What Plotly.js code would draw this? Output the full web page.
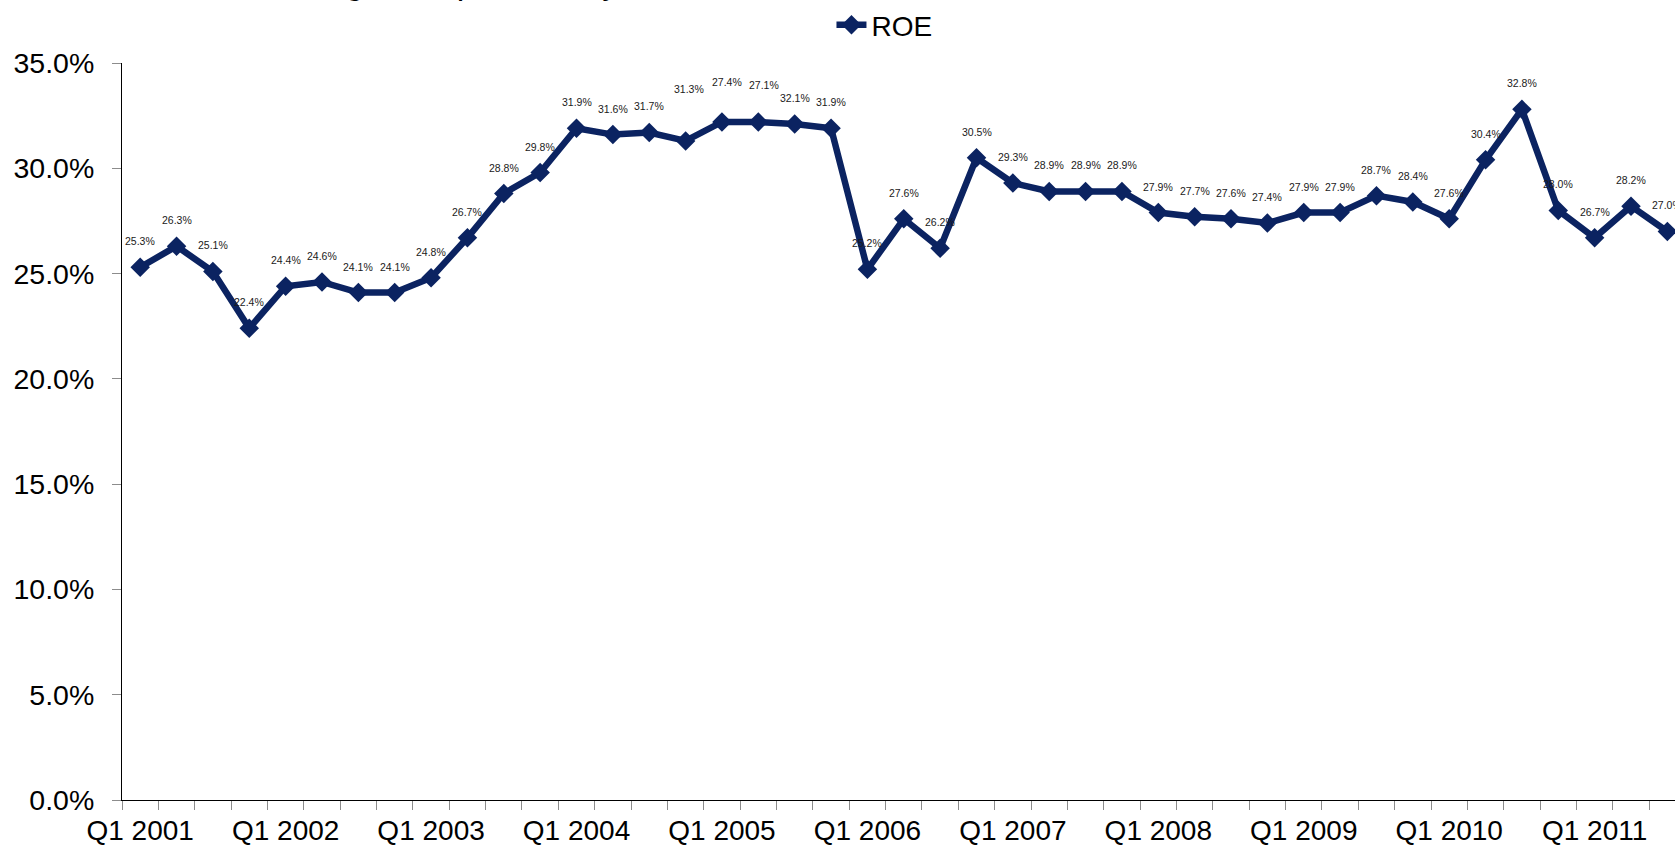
<!DOCTYPE html>
<html>
<head>
<meta charset="utf-8">
<script src="https://cdn.plot.ly/plotly-3.0.1.min.js"></script>
<style>
  html, body { margin: 0; padding: 0; background: #fff; overflow: hidden; }
  #chart { width: 1675px; height: 846px; }
</style>
</head>
<body>
<div id="chart"></div>
<script>
// ---- Data ----
const quarters = [
  "Q1 2001","Q2 2001","Q3 2001","Q4 2001",
  "Q1 2002","Q2 2002","Q3 2002","Q4 2002",
  "Q1 2003","Q2 2003","Q3 2003","Q4 2003",
  "Q1 2004","Q2 2004","Q3 2004","Q4 2004",
  "Q1 2005","Q2 2005","Q3 2005","Q4 2005",
  "Q1 2006","Q2 2006","Q3 2006","Q4 2006",
  "Q1 2007","Q2 2007","Q3 2007","Q4 2007",
  "Q1 2008","Q2 2008","Q3 2008","Q4 2008",
  "Q1 2009","Q2 2009","Q3 2009","Q4 2009",
  "Q1 2010","Q2 2010","Q3 2010","Q4 2010",
  "Q1 2011","Q2 2011","Q3 2011"
];

const roe = [
  25.3, 26.3, 25.1, 22.4,
  24.4, 24.6, 24.1, 24.1,
  24.8, 26.7, 28.8, 29.8,
  31.9, 31.6, 31.7, 31.3,
  32.2, 32.2, 32.1, 31.9,
  25.2, 27.6, 26.2, 30.5,
  29.3, 28.9, 28.9, 28.9,
  27.9, 27.7, 27.6, 27.4,
  27.9, 27.9, 28.7, 28.4,
  27.6, 30.4, 32.8, 28.0,
  26.7, 28.2, 27.0
];

// data labels as printed on the chart
const roeLabels = [
  "25.3%","26.3%","25.1%","22.4%",
  "24.4%","24.6%","24.1%","24.1%",
  "24.8%","26.7%","28.8%","29.8%",
  "31.9%","31.6%","31.7%","31.3%",
  "27.4%","27.1%","32.1%","31.9%",
  "25.2%","27.6%","26.2%","30.5%",
  "29.3%","28.9%","28.9%","28.9%",
  "27.9%","27.7%","27.6%","27.4%",
  "27.9%","27.9%","28.7%","28.4%",
  "27.6%","30.4%","32.8%","28.0%",
  "26.7%","28.2%","27.0%"
];

const seriesName = "ROE";
const titleText = "Strong ROE profitability";

// ---- Styling ----
const NAVY = "#0b2361";
const FONT = "Arial, 'Liberation Sans', sans-serif";
const labelShift = 26;
const labelShiftOverrides = { 15: {dy: 52, dx: 3}, 16: {dy: 40, dx: 5}, 17: {dy: 37, dx: 6} };

const tickText = quarters.map(q => q.startsWith("Q1") ? q : "");

const trace = {
  type: "scatter",
  mode: "lines+markers",
  name: seriesName,
  x: quarters,
  y: roe,
  line: { color: NAVY, width: 6.5 },
  marker: { symbol: "diamond", size: 15, color: NAVY },
  cliponaxis: false,
  hoverinfo: "x+y"
};

const annotations = roe.map((v, i) => {
  const o = labelShiftOverrides[i] || { dy: labelShift, dx: 0 };
  return {
    x: quarters[i], y: v, xref: "x", yref: "y",
    text: roeLabels[i], showarrow: false,
    xanchor: "center", yanchor: "middle",
    yshift: o.dy, xshift: o.dx,
    font: { family: FONT, size: 10.5, color: "#1a1a1a" }
  };
});

annotations.push({
  xref: "paper", yref: "paper", x: 0.090, y: 1,
  xanchor: "left", yanchor: "bottom", yshift: 60,
  text: titleText, showarrow: false,
  font: { family: FONT, size: 34, color: "#000" }
});

const layout = {
  width: 1675, height: 846,
  margin: { l: 122, r: 0, t: 63, b: 46, pad: 0 },
  paper_bgcolor: "#fff", plot_bgcolor: "#fff",
  font: { family: FONT, color: "#000", size: 28 },
  showlegend: true,
  legend: {
    orientation: "h",
    xref: "container", yref: "container",
    x: 0.4964, y: 1, xanchor: "left", yanchor: "top",
    font: { family: FONT, size: 28, color: "#000" },
    bgcolor: "rgba(0,0,0,0)", borderwidth: 0
  },
  xaxis: {
    type: "category",
    range: [-0.5, 42.21],
    tickmode: "array",
    tickvals: quarters,
    ticktext: tickText,
    tickson: "boundaries",
    ticks: "outside", ticklen: 9, tickwidth: 1, tickcolor: "#8c8c8c",
    showline: true, linecolor: "#000", linewidth: 1,
    showgrid: false, zeroline: false,
    tickangle: 0,
    ticklabelstandoff: 5,
    tickfont: { family: FONT, size: 28, color: "#000" }
  },
  yaxis: {
    range: [0, 35],
    tickmode: "linear", tick0: 0, dtick: 5,
    tickformat: ".1f", ticksuffix: "%",
    ticks: "outside", ticklen: 9, tickwidth: 1, tickcolor: "#8c8c8c",
    showline: true, linecolor: "#000", linewidth: 1,
    showgrid: false, zeroline: false,
    ticklabelstandoff: 12,
    tickfont: { family: FONT, size: 28.5, color: "#000" }
  },
  annotations: annotations
};

Plotly.newPlot("chart", [trace], layout, { displayModeBar: false, staticPlot: true });
</script>
</body>
</html>
